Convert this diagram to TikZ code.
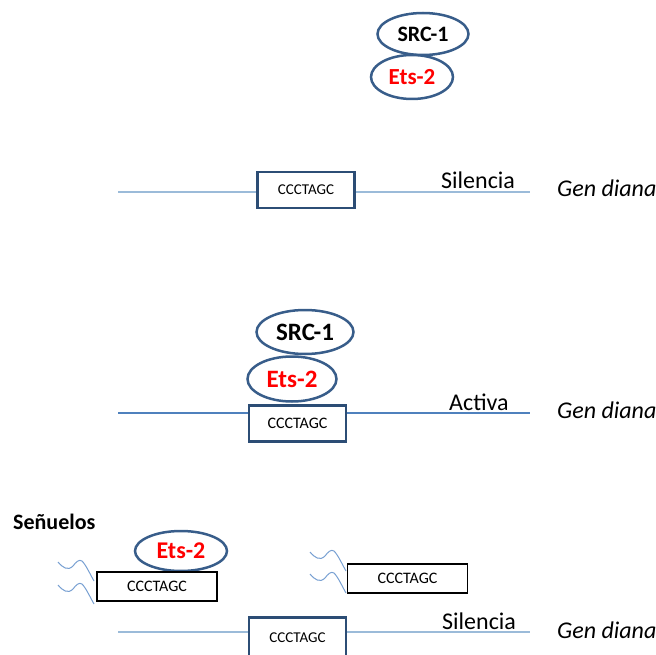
\documentclass[tikz,border=0pt]{standalone}
\usepackage{fontspec}
\setmainfont{Carlito}
\usetikzlibrary{positioning,shapes.geometric}

\definecolor{ovalblue}{RGB}{56,93,138}
\definecolor{boxblue}{RGB}{44,77,117}
\definecolor{geneblue}{RGB}{155,187,217}
\definecolor{genedark}{RGB}{79,129,189}
\definecolor{waveblue}{RGB}{120,160,210}

\tikzset{
  oval/.style={ellipse, draw=ovalblue, line width=2.5pt, inner sep=0pt,
    font=\fontsize{22}{26}\selectfont\bfseries},
  site/.style={draw=boxblue, line width=2.8pt, minimum width=97pt,
    minimum height=36pt, inner sep=0pt, font=\fontsize{15}{18}\selectfont},
  decoy/.style={draw=black, line width=1.6pt, minimum width=120pt,
    minimum height=29pt, inner sep=0pt, font=\fontsize{16}{19}\selectfont},
  tag/.style={anchor=base west, inner sep=0pt, font=\fontsize{24}{28}\selectfont},
  gentag/.style={tag, font=\fontsize{24}{28}\selectfont\itshape},
  gene/.style={draw=geneblue, line width=1.3pt},
  wave/.style={draw=waveblue, line width=1pt}
}

\newcommand{\wavy}[2]{%
  \draw[wave, shift={(#1,#2)}] (0,0) .. controls (5,6) and (10,9) .. (15,4)
    .. controls (18,0) and (21,-3) .. (24,-1)
    .. controls (28,3) and (32,12) .. (36,19);}

\begin{document}
\begin{tikzpicture}[x=1pt,y=-1pt]
\useasboundingbox (0,0) rectangle (656,655);

\def\xl{118}
\def\xr{530}
\def\xgen{557}

% silenced gene
\node[oval, minimum width=91pt, minimum height=42pt] (src1) at (423,34) {SRC-1};
\node[oval, text=red, font=\fontsize{23}{27}\selectfont\bfseries,
  minimum width=82pt, minimum height=44pt] (ets1) at (412,77) {Ets-2};

\coordinate (l1) at (\xl,192);
\coordinate (r1) at (\xr,192);
\node[site] (b1) at (306,190) {CCCTAGC};
\draw[gene] (l1) -- (l1 -| b1.west);
\draw[gene] (r1 -| b1.east) -- (r1);
\node[tag] (sil1) at (441,189) {Silencia};
\node[gentag] (gen1) at (\xgen,197) {Gen diana};

% active gene
\node[oval, font=\fontsize{25}{29}\selectfont\bfseries,
  minimum width=97pt, minimum height=44pt] (src2) at (305,332) {SRC-1};
\node[oval, text=red, font=\fontsize{25}{29}\selectfont\bfseries,
  minimum width=89pt, minimum height=45pt] (ets2) at (292,379) {Ets-2};

\coordinate (l2) at (\xl,413);
\coordinate (r2) at (\xr,413);
\node[site, font=\fontsize{16}{19}\selectfont] (b2) at (297.5,423.5) {CCCTAGC};
\draw[gene, draw=genedark] (l2) -- (l2 -| b2.west);
\draw[gene, draw=genedark] (r2 -| b2.east) -- (r2);
\node[tag] (act2) at (449,410) {Activa};
\node[gentag] (gen2) at (\xgen,418) {Gen diana};

% decoys
\node[tag, font=\fontsize{22}{26}\selectfont\bfseries] (dec) at (13,529) {Señuelos};
\node[oval, text=red, font=\fontsize{24}{28}\selectfont\bfseries,
  minimum width=92pt, minimum height=40pt] (ets3) at (181,551) {Ets-2};
\node[decoy] (dl) at (157,586.5) {CCCTAGC};
\node[decoy] (dr) at (407.5,578.5) {CCCTAGC};
\wavy{58}{562}
\wavy{58}{585}
\wavy{310}{552}
\wavy{310}{574}

\coordinate (l4) at (\xl,632);
\coordinate (r4) at (\xr,632);
\node[site, minimum height=41pt] (b4) at (297.5,638) {CCCTAGC};
\draw[gene] (l4) -- (l4 -| b4.west);
\draw[gene] (r4 -| b4.east) -- (r4);
\node[tag] (sil4) at (442,629) {Silencia};
\node[gentag] (gen4) at (\xgen,638) {Gen diana};

\end{tikzpicture}
\end{document}
